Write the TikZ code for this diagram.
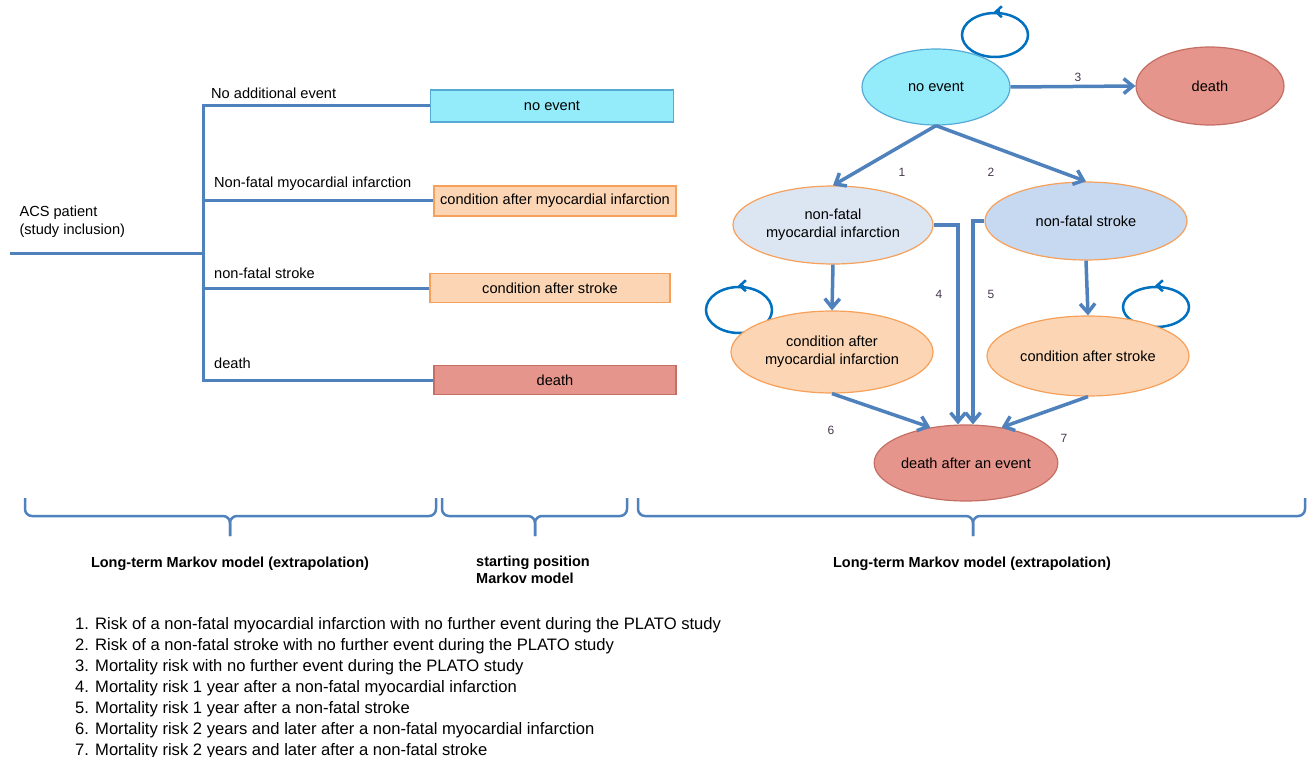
\documentclass[tikz,border=0pt]{standalone}
\usepackage{fontspec}
\setmainfont{Liberation Sans}
\usetikzlibrary{shapes.geometric,arrows.meta,positioning}

\definecolor{linkblue}{RGB}{79,129,189}
\definecolor{loopblue}{RGB}{0,112,192}
\definecolor{cyanfill}{RGB}{148,236,251}
\definecolor{cyanline}{RGB}{86,170,214}
\definecolor{peach}{RGB}{252,214,180}
\definecolor{peachline}{RGB}{246,160,90}
\definecolor{salmon}{RGB}{229,149,139}
\definecolor{salmonline}{RGB}{196,110,100}
\definecolor{paleblue}{RGB}{220,230,243}
\definecolor{skyblue}{RGB}{198,217,241}
\definecolor{numcol}{RGB}{70,55,80}

\begin{document}
\begin{tikzpicture}[x=1pt,y=-1pt,>={Straight Barb[length=9pt,width=15pt]},
    txt/.style={font=\fontsize{14.6}{18}\selectfont},
    box/.style={rectangle,draw,line width=1.5pt,minimum height=30pt,inner sep=0pt,txt},
    state/.style={ellipse,draw,line width=1.2pt,inner sep=0pt,align=center,txt},
    branch/.style={draw=linkblue,line width=3pt},
    link/.style={->,draw=linkblue,line width=3.5pt},
    selfloop/.style={ellipse,draw=loopblue,line width=2.5pt,minimum width=66pt,minimum height=44pt},
    looptip/.style={->,draw=loopblue,line width=2.5pt,>={Straight Barb[length=6pt,width=11pt]}},
    num/.style={text=numcol,font=\fontsize{12}{14}\selectfont},
    brace/.style={draw=linkblue,line width=2.5pt,rounded corners=7pt},
    bold/.style={font=\bfseries\fontsize{14.5}{17}\selectfont}]

  \useasboundingbox (0,0) rectangle (1310,757);

  % decision tree at study inclusion
  \coordinate (root) at (10,253);
  \coordinate (fork) at (203,253);
  \node[txt,align=left,anchor=north west] (acs) at (16,202) {ACS patient\\(study inclusion)};

  \node[box,fill=cyanfill,draw=cyanline,minimum width=243pt,minimum height=32pt] (startnoev) at (552,106) {no event};
  \node[box,fill=peach,draw=peachline,minimum width=242pt] (startmi) at (555,201) {condition after myocardial infarction};
  \node[box,fill=peach,draw=peachline,minimum width=240pt,minimum height=29pt] (startstroke) at (550,288) {condition after stroke};
  \node[box,fill=salmon,draw=salmonline,minimum width=242pt,minimum height=29pt] (startdeath) at (555,380) {death};

  \draw[branch] (root) -- (fork);
  \draw[branch] (startnoev.west) -| (fork);
  \draw[branch] (startdeath.west) -| (fork);
  \draw[branch] (startmi.west) -- (startmi.west -| fork);
  \draw[branch] (startstroke.west) -- (startstroke.west -| fork);

  \node[txt,anchor=base west,inner sep=0pt] (lblnoev) at (211,99) {No additional event};
  \node[txt,anchor=base west,inner sep=0pt] (lblmi) at (214,187) {Non-fatal myocardial infarction};
  \node[txt,anchor=base west,inner sep=0pt] (lblstroke) at (214,278) {non-fatal stroke};
  \node[txt,anchor=base west,inner sep=0pt] (lbldeath) at (214,368) {death};

  % Markov model
  \node[selfloop] (noevloop) at (995,35) {};
  \node[selfloop,minimum height=46pt] (condmiloop) at (739,310) {};
  \node[selfloop,minimum height=40pt] (condstrokeloop) at (1156,307) {};

  \node[state,fill=cyanfill,draw=cyanline,minimum width=148pt,minimum height=76pt] (noev) at (936,87) {no event};
  \node[state,fill=salmon,draw=salmonline,minimum width=148pt,minimum height=78pt] (death) at (1210,86) {death};
  \node[state,fill=paleblue,draw=peachline,minimum width=200pt,minimum height=78pt] (mi) at (833,225) {non-fatal\\myocardial infarction};
  \node[state,fill=skyblue,draw=peachline,minimum width=202pt,minimum height=78pt] (stroke) at (1086,221) {non-fatal stroke};
  \node[state,fill=peach,draw=peachline,minimum width=202pt,minimum height=82pt] (condmi) at (832,352) {condition after\\myocardial infarction};
  \node[state,fill=peach,draw=peachline,minimum width=202pt,minimum height=80pt] (condstroke) at (1088,356) {condition after stroke};
  \node[state,fill=salmon,draw=salmonline,minimum width=162pt,minimum height=76pt] (deathev) at (966,463) {death after an event};

  \draw[looptip] ([xshift=5pt]noevloop.north) -- ([xshift=-1pt]noevloop.north);
  \draw[looptip] ([xshift=5pt]condmiloop.north) -- ([xshift=-1pt]condmiloop.north);
  \draw[looptip] ([xshift=5pt]condstrokeloop.north) -- ([xshift=-1pt]condstrokeloop.north);

  \draw[link] (noev.east) -- (death.west);
  \draw[link] (noev.south) -- (mi.north);
  \draw[link] (noev.south) -- (stroke.north);
  \draw[link] (mi.south) -- (condmi.north);
  \draw[link] (stroke.south) -- (condstroke.north);
  \draw[link] (mi.east) -| ([xshift=-8pt]deathev.north);
  \draw[link] (stroke.west) -| ([xshift=7pt]deathev.north);
  \draw[link] (condmi.south) -- (deathev.135);
  \draw[link] (condstroke.south) -- (deathev.45);

  \node[num] (n1) at (902,172) {1};
  \node[num] (n2) at (991,172) {2};
  \node[num] (n3) at (1078,77) {3};
  \node[num] (n4) at (939,294) {4};
  \node[num] (n5) at (991,294) {5};
  \node[num] (n6) at (831,430) {6};
  \node[num] (n7) at (1064,438) {7};

  % braces and phases
  \foreach \a/\m/\b in {25/230/436, 442/535/627, 638/973/1305} {
    \draw[brace] (\a,498) -- (\a,516) -- (\m,516) -- (\m,536);
    \draw[brace] (\m,536) -- (\m,516) -- (\b,516) -- (\b,498);
  }
  \node[bold] (lbllong) at (230,564) {Long-term Markov model (extrapolation)};
  \node[bold,align=left,anchor=north west,inner sep=0pt] (lblstart) at (476,556) {starting position\\Markov model};
  \node[bold] (lbllongright) at (972,564) {Long-term Markov model (extrapolation)};

  \node[anchor=north west,align=left,inner sep=0pt,font=\fontsize{16.6}{21}\selectfont] (legend) at (75,617) {%
    1. Risk of a non-fatal myocardial infarction with no further event during the PLATO study\\
    2. Risk of a non-fatal stroke with no further event during the PLATO study\\
    3. Mortality risk with no further event during the PLATO study\\
    4. Mortality risk 1 year after a non-fatal myocardial infarction\\
    5. Mortality risk 1 year after a non-fatal stroke\\
    6. Mortality risk 2 years and later after a non-fatal myocardial infarction\\
    7. Mortality risk 2 years and later after a non-fatal stroke};
\end{tikzpicture}
\end{document}
